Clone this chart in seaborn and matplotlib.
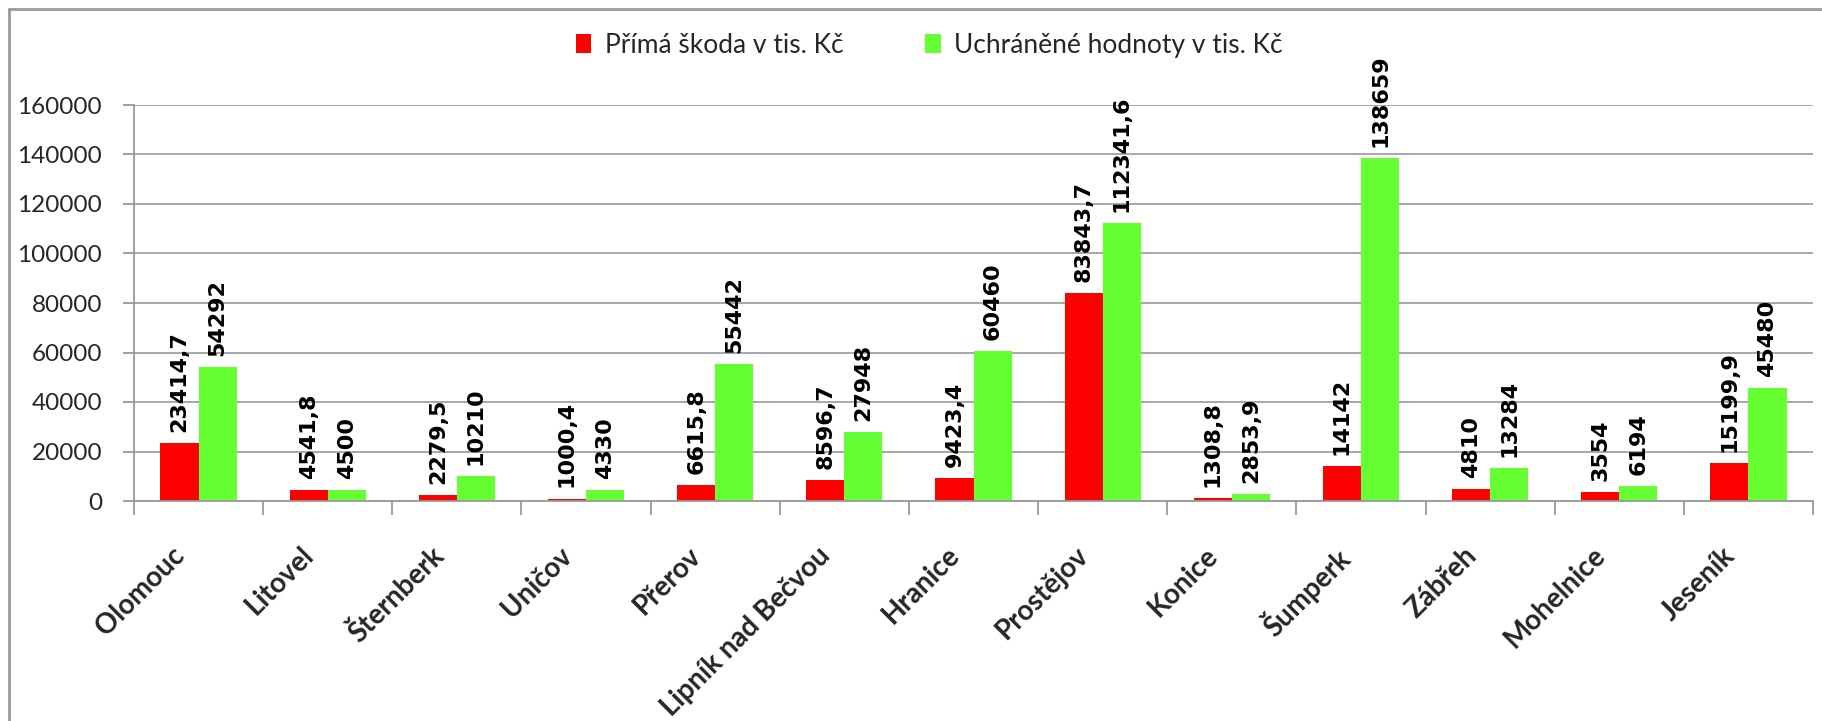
import matplotlib
matplotlib.use("Agg")
import matplotlib.pyplot as plt
import matplotlib.transforms as mtransforms
from matplotlib.lines import Line2D
from matplotlib.patches import Patch
import seaborn as sns
import pandas as pd
import numpy as np

categories = ["Olomouc", "Litovel", "Šternberk", "Uničov", "Přerov", "Lipník nad Bečvou",
              "Hranice", "Prostějov", "Konice", "Šumperk", "Zábřeh", "Mohelnice", "Jeseník"]
prima_skoda = [23414.7, 4541.8, 2279.5, 1000.4, 6615.8, 8596.7, 9423.4, 83843.7,
               1308.8, 14142, 4810, 3554, 15199.9]
uchranene = [54292, 4500, 10210, 4330, 55442, 27948, 60460, 112341.6,
             2853.9, 138659, 13284, 6194, 45480]
series_names = ["Přímá škoda v tis. Kč", "Uchráněné hodnoty v tis. Kč"]
y_ticks = [0, 20000, 40000, 60000, 80000, 100000, 120000, 140000, 160000]

colors = ["#FF0000", "#66FF33"]

sns.set_theme(style="white")
plt.rcParams['font.family'] = ['Lato', 'DejaVu Sans']

df = pd.DataFrame({
    "Město": categories * 2,
    "Hodnota": prima_skoda + uchranene,
    "Série": [series_names[0]] * len(categories) + [series_names[1]] * len(categories),
})

fig = plt.figure(figsize=(18.22, 7.21), dpi=100)
ax = fig.add_axes([134 / 1822, 1 - 501 / 721, (1813 - 134) / 1822, (501 - 105) / 721])

sns.barplot(data=df, x="Město", y="Hodnota", hue="Série", palette=colors,
            width=0.59, saturation=1, ax=ax, legend=False, linewidth=0)

ax.set_ylim(0, 160000)
ax.set_xlim(-0.5, len(categories) - 0.5)
ax.set_yticks(y_ticks)
ax.set_yticklabels([str(t) for t in y_ticks], fontsize=17.5, family=['Lato', 'DejaVu Sans'])
ax.set_xlabel("")
ax.set_ylabel("")

ax.yaxis.grid(True, color="#a0a0a0", linewidth=1.3)
ax.set_axisbelow(True)
for s in ["top", "right"]:
    ax.spines[s].set_visible(False)
for s in ["left", "bottom"]:
    ax.spines[s].set_color("#9a9a9a")
    ax.spines[s].set_linewidth(1.3)

ax.tick_params(axis="y", which="major", left=True, length=8, width=1.3, color="#9a9a9a", pad=15)
ax.tick_params(axis="x", which="major", bottom=False, length=0, pad=0)
ax.set_xticks(np.arange(-0.5, len(categories) + 0.5, 1), minor=True)
ax.tick_params(axis="x", which="minor", bottom=True, length=10, width=1.3, color="#9a9a9a")

ax.set_xticks(range(len(categories)))
ax.set_xticklabels(categories, rotation=45, ha="right", va="top", rotation_mode="anchor",
                   fontsize=20, fontweight="bold", family=['Lato', 'DejaVu Sans'])
offset = mtransforms.ScaledTranslation(-27 / 100, -41 / 100, fig.dpi_scale_trans)
for lbl in ax.get_xticklabels():
    lbl.set_transform(lbl.get_transform() + offset)

def fmt(v):
    s = ("%.1f" % v).rstrip("0").rstrip(".")
    return s.replace(".", ",")

for cont, vals in zip(ax.containers, [prima_skoda, uchranene]):
    ax.bar_label(cont, labels=[fmt(v) for v in vals], rotation=90, padding=8,
                 fontsize=16, family="DejaVu Sans", fontweight="bold", color="black")

handles = [Patch(facecolor=c, edgecolor="none") for c in colors]
fig.legend(handles, series_names, loc="center", bbox_to_anchor=(0.510, 0.937), ncol=2,
           frameon=False, handlelength=0.6, handleheight=0.75,
           columnspacing=3.1, handletextpad=0.5,
           prop={'family': ['Lato', 'DejaVu Sans'], 'size': 19})

# outer frame (top and left edges visible)
fig.add_artist(Line2D([9 / 1822, 1.0], [1 - 9 / 721, 1 - 9 / 721], transform=fig.transFigure,
                      color="#9a9a9a", linewidth=2))
fig.add_artist(Line2D([9 / 1822, 9 / 1822], [0, 1 - 9 / 721], transform=fig.transFigure,
                      color="#9a9a9a", linewidth=2))

fig.savefig("out.png", dpi=100, facecolor="white")
